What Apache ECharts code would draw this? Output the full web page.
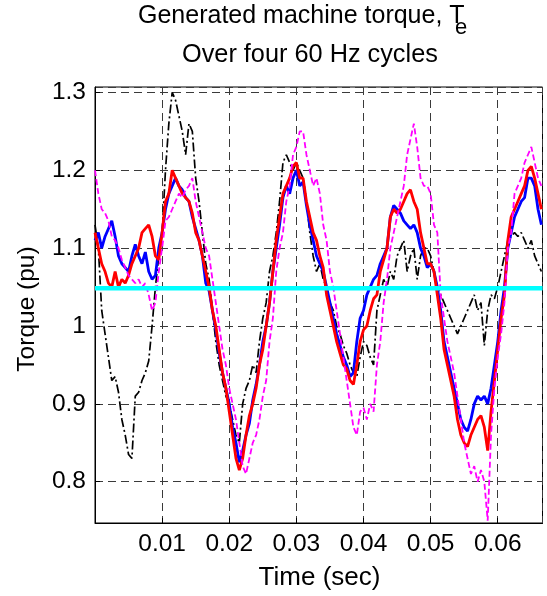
<!DOCTYPE html>
<html>
<head>
<meta charset="utf-8">
<script src="https://cdn.jsdelivr.net/npm/echarts@6/dist/echarts.min.js"></script>
<style>
html,body{margin:0;padding:0;background:#fff;}
#chart{width:547px;height:596px;}
</style>
</head>
<body>
<div id="chart"></div>
<script>
// ---- data ----
const time = [0,0.0005,0.001,0.0015,0.002,0.0025,0.003,0.0035,0.004,0.0045,0.005,0.0055,0.006,0.0065,0.007,0.0075,0.008,0.0085,0.009,0.0095,
0.010,0.0105,0.011,0.0115,0.012,0.0125,0.013,0.0135,0.014,0.0145,0.015,0.0155,0.016,0.0165,0.017,0.0175,0.018,0.0185,0.019,0.0195,
0.020,0.0205,0.021,0.0215,0.022,0.0225,0.023,0.0235,0.024,0.0245,0.025,0.0255,0.026,0.0265,0.027,0.0275,0.028,0.0285,0.029,0.0295,
0.030,0.0305,0.031,0.0315,0.032,0.0325,0.033,0.0335,0.034,0.0345,0.035,0.0355,0.036,0.0365,0.037,0.0375,0.038,0.0385,0.039,0.0395,
0.040,0.0405,0.041,0.0415,0.042,0.0425,0.043,0.0435,0.044,0.0445,0.045,0.0455,0.046,0.0465,0.047,0.0475,0.048,0.0485,0.049,0.0495,
0.050,0.0505,0.051,0.0515,0.052,0.0525,0.053,0.0535,0.054,0.0545,0.055,0.0555,0.056,0.0565,0.057,0.0575,0.058,0.0585,0.059,0.0595,
0.060,0.0605,0.061,0.0615,0.062,0.0625,0.063,0.0635,0.064,0.0645,0.065,0.0655,0.066,0.0665];

const torqueBlack = [1.13,1.10,1.02,0.99,0.96,0.93,0.935,0.915,0.88,0.86,0.835,0.83,0.91,0.915,0.93,0.94,0.955,1.00,1.05,1.09,
1.12,1.20,1.26,1.30,1.29,1.27,1.25,1.22,1.26,1.25,1.19,1.16,1.12,1.08,1.06,1.02,0.98,0.95,0.93,0.91,
0.90,0.88,0.86,0.85,0.90,0.92,0.93,0.95,0.94,0.98,1.01,1.03,1.07,1.09,1.12,1.16,1.21,1.22,1.21,1.20,
1.21,1.20,1.19,1.16,1.12,1.09,1.07,1.08,1.06,1.05,1.03,1.02,1.00,0.99,0.975,0.965,0.95,0.94,0.935,0.96,
0.98,0.975,0.96,0.95,1.02,1.04,1.06,1.05,1.07,1.06,1.09,1.10,1.11,1.07,1.09,1.10,1.06,1.09,1.10,1.10,
1.09,1.07,1.05,1.04,1.03,1.02,1.01,1.00,0.99,1.00,1.01,1.02,1.03,1.04,1.02,1.03,0.975,1.02,1.04,1.035,
1.05,1.07,1.09,1.11,1.115,1.12,1.115,1.12,1.11,1.10,1.11,1.09,1.08,1.07];

const torqueBlue = [1.11,1.12,1.10,1.115,1.125,1.135,1.115,1.09,1.08,1.075,1.07,1.09,1.105,1.09,1.08,1.095,1.07,1.06,1.065,1.10,
1.12,1.15,1.17,1.18,1.19,1.18,1.175,1.165,1.16,1.14,1.125,1.11,1.09,1.055,1.045,1.02,0.995,0.965,0.94,0.92,
0.90,0.87,0.85,0.825,0.84,0.86,0.875,0.905,0.925,0.95,0.98,1.00,1.03,1.07,1.10,1.13,1.165,1.18,1.17,1.19,
1.20,1.18,1.185,1.155,1.13,1.11,1.09,1.08,1.07,1.05,1.03,1.01,0.99,0.975,0.96,0.95,0.935,0.94,0.98,1.01,
1.02,1.04,1.05,1.06,1.065,1.08,1.09,1.10,1.14,1.155,1.15,1.145,1.135,1.13,1.125,1.13,1.12,1.10,1.09,1.075,
1.08,1.07,1.05,1.02,0.98,0.96,0.94,0.92,0.90,0.88,0.87,0.865,0.88,0.90,0.91,0.905,0.91,0.90,0.92,0.95,
0.98,1.02,1.05,1.10,1.12,1.14,1.15,1.16,1.165,1.19,1.19,1.18,1.15,1.13];

const torqueRed = [1.12,1.10,1.08,1.07,1.055,1.05,1.07,1.05,1.06,1.055,1.065,1.08,1.09,1.10,1.12,1.125,1.13,1.115,1.09,1.085,
1.12,1.16,1.17,1.20,1.19,1.18,1.17,1.165,1.16,1.145,1.12,1.11,1.09,1.07,1.05,1.02,1.00,0.97,0.94,0.92,
0.89,0.86,0.83,0.815,0.83,0.86,0.885,0.90,0.92,0.95,0.97,1.00,1.03,1.07,1.11,1.14,1.17,1.18,1.19,1.205,
1.21,1.19,1.19,1.16,1.14,1.12,1.11,1.09,1.075,1.04,1.02,1.00,0.98,0.965,0.95,0.945,0.93,0.925,0.95,0.98,
0.995,1.00,1.02,1.035,1.04,1.07,1.085,1.10,1.14,1.15,1.145,1.15,1.16,1.17,1.175,1.16,1.15,1.12,1.10,1.08,
1.08,1.07,1.04,1.01,0.97,0.95,0.93,0.91,0.88,0.86,0.85,0.845,0.86,0.87,0.88,0.885,0.87,0.84,0.89,0.93,
0.97,1.01,1.04,1.11,1.14,1.15,1.16,1.17,1.18,1.20,1.205,1.19,1.17,1.15];

const torqueMagenta = [1.20,1.17,1.15,1.145,1.135,1.115,1.11,1.10,1.085,1.075,1.065,1.06,1.055,1.06,1.05,1.055,1.04,1.02,1.03,1.07,
1.10,1.135,1.14,1.15,1.16,1.17,1.165,1.175,1.18,1.19,1.16,1.14,1.12,1.10,1.09,1.06,1.03,1.00,0.97,0.95,
0.92,0.90,0.88,0.85,0.82,0.81,0.83,0.85,0.86,0.88,0.91,0.93,0.98,1.01,1.07,1.10,1.12,1.16,1.18,1.22,
1.23,1.25,1.25,1.22,1.20,1.18,1.19,1.17,1.13,1.11,1.07,1.05,1.02,0.99,0.96,0.93,0.90,0.87,0.86,0.89,
0.895,0.88,0.90,0.89,0.95,0.98,1.03,1.06,1.10,1.12,1.14,1.16,1.18,1.22,1.24,1.26,1.23,1.19,1.18,1.18,
1.17,1.13,1.12,1.04,1.01,0.98,0.96,0.94,0.91,0.88,0.85,0.83,0.81,0.82,0.80,0.815,0.80,0.75,0.86,0.92,
0.96,0.99,1.03,1.10,1.12,1.17,1.18,1.19,1.21,1.22,1.23,1.21,1.19,1.18];

const refTime = [0, 0.0666667];
const refTorque = [1.0484, 1.0484];

const xTicks = [0.01, 0.02, 0.03, 0.04, 0.05, 0.06];
const yTicks = [0.8, 0.9, 1.0, 1.1, 1.2, 1.3];

const titleLine1 = 'Generated machine torque, T';
const titleSub = 'e';
const titleLine2 = 'Over four 60 Hz cycles';
const xName = 'Time (sec)';
const yName = 'Torque (pu)';

// ---- chart ----
const FONT = '"Liberation Sans", Arial, sans-serif';
const pair = (xs, ys) => xs.map((x, i) => [x, ys[i]]);

const chart = echarts.init(document.getElementById('chart'), null, {renderer: 'canvas'});

function lineSeries(name, ys, color, width, type, z) {
  return {
    name, type: 'line', data: pair(time, ys), symbol: 'none', z,
    lineStyle: {color, width, type}, clip: true, animation: false
  };
}

const gridLine = {show: true, lineStyle: {color: '#3a3a3a', width: 1, type: [8, 5]}};

const option = {
  backgroundColor: '#fff',
  animation: false,
  grid: {left: 95, top: 87, width: 447.5, height: 436, show: true, borderColor: '#000', borderWidth: 1, containLabel: false},
  xAxis: {
    type: 'value', min: 0, max: 0.0666667, interval: 0.01,
    axisLine: {lineStyle: {color: '#000', width: 1}},
    axisTick: {inside: true, length: 5, lineStyle: {color: '#000'}},
    axisLabel: {
      color: '#000', fontFamily: FONT, fontSize: 24.5, margin: 9,
      showMinLabel: false, showMaxLabel: false,
      formatter: v => { const t = xTicks.find(k => Math.abs(k - v) < 1e-6); return t === undefined ? '' : t.toFixed(2); }
    },
    splitLine: gridLine
  },
  yAxis: {
    type: 'value', min: 0.747, max: 1.307, splitNumber: 5,
    axisLine: {lineStyle: {color: '#000', width: 1}},
    axisTick: {inside: true, length: 5, lineStyle: {color: '#000'}},
    axisLabel: {
      color: '#000', fontFamily: FONT, fontSize: 24.5, margin: 9,
      showMinLabel: false, showMaxLabel: false,
      formatter: v => { const t = yTicks.find(k => Math.abs(k - v) < 1e-6); return t === undefined ? '' : (t === 1 ? '1' : t.toFixed(1)); }
    },
    splitLine: gridLine
  },
  series: [
    lineSeries('black', torqueBlack, '#000000', 1.7, [9, 3, 2, 3], 2),
    lineSeries('blue', torqueBlue, '#0000FF', 2.8, 'solid', 3),
    lineSeries('red', torqueRed, '#FF0000', 2.8, 'solid', 4),
    lineSeries('magenta', torqueMagenta, '#FF00FF', 1.8, [6, 3], 5),
    {name: 'ref', type: 'line', data: pair(refTime, refTorque), symbol: 'none', z: 6,
     lineStyle: {color: '#00FFFF', width: 4.5}, animation: false}
  ],
  graphic: [
    {type: 'text', left: 138, top: 4, z: 100, style: {text: titleLine1, fontFamily: FONT, fontSize: 25, fill: '#000'}},
    {type: 'text', left: 455, top: 17, z: 100, style: {text: titleSub, fontFamily: FONT, fontSize: 22, fill: '#000'}},
    {type: 'text', left: 182, top: 43, z: 100, style: {text: titleLine2, fontFamily: FONT, fontSize: 25.3, fill: '#000'}},
    {type: 'text', x: 319.5, y: 578, z: 100,
     style: {text: xName, fontFamily: FONT, fontSize: 26, fill: '#000', align: 'center', verticalAlign: 'middle'}},
    {type: 'text', x: 27, y: 309, rotation: Math.PI / 2, z: 100,
     style: {text: yName, fontFamily: FONT, fontSize: 24.5, fill: '#000', align: 'center', verticalAlign: 'middle'}}
  ]
};
chart.setOption(option);
</script>
</body>
</html>
